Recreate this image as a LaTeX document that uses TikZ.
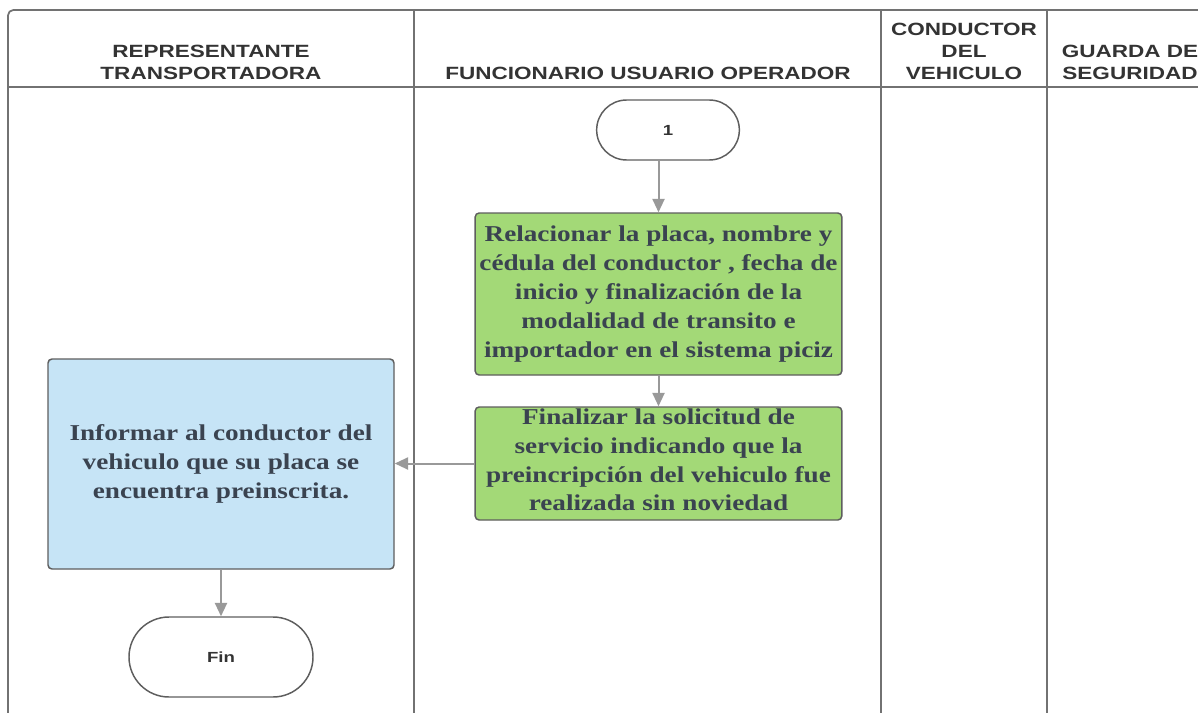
\documentclass[tikz,border=0pt]{standalone}
\usepackage{fontspec}
\setmainfont[FakeStretch=1.2]{Liberation Serif}
\newfontfamily\hdrfont[FakeStretch=1.27]{Liberation Sans}
\usetikzlibrary{arrows.meta,shapes.misc}
\definecolor{framegray}{HTML}{727272}
\definecolor{hdrtext}{HTML}{333333}
\definecolor{boxtext}{HTML}{3A4350}
\definecolor{boxgreen}{HTML}{A3D977}
\definecolor{boxblue}{HTML}{C6E4F6}
\definecolor{boxline}{HTML}{5E5E5E}
\definecolor{arrowgray}{HTML}{999999}
\tikzset{
  hdr/.style={font=\hdrfont\bfseries\fontsize{13.3}{16.5}\selectfont, text=hdrtext, align=center, inner sep=0pt},
  boxfont/.style={align=center, font=\bfseries\fontsize{17}{21.6}\selectfont, text=boxtext, inner sep=0pt},
  procbox/.style={draw=boxline, line width=1.1pt, rounded corners=3pt, boxfont},
  term/.style={draw=boxline, line width=1.1pt, rounded rectangle, fill=white,
     font=\hdrfont\bfseries\fontsize{11}{13}\selectfont, text=hdrtext, inner sep=0pt},
  flow/.style={draw=arrowgray, line width=1.5pt, -{Triangle[length=10pt,width=9pt]}}
}
\begin{document}
\begin{tikzpicture}[x=0.75pt,y=-0.75pt]
\useasboundingbox (0,0) rectangle (1198,713);
\fill[white] (0,0) rectangle (1198,713);
\begin{scope}
\clip (0,0) rectangle (1198,713);
\draw[framegray, line width=1.3pt, rounded corners=4pt] (8,740) -- (8,10) -- (1230,10);
\draw[framegray, line width=1.3pt] (8,87) -- (1230,87);
\draw[framegray, line width=1.3pt] (414,10) -- (414,740);
\draw[framegray, line width=1.3pt] (881,10) -- (881,740);
\draw[framegray, line width=1.3pt] (1047,10) -- (1047,740);

\node[hdr] (h1) at (211,62) {REPRESENTANTE\\TRANSPORTADORA};
\node[hdr] (h2) at (648,73) {FUNCIONARIO USUARIO OPERADOR};
\node[hdr] (h3) at (964,51) {CONDUCTOR\\DEL\\VEHICULO};
\node[hdr] (h4) at (1130,62) {GUARDA DE\\SEGURIDAD};

\node[term, minimum width=107pt, minimum height=45pt] (start) at (668,130) {1};
\node[procbox, fill=boxgreen, minimum width=275pt, minimum height=121.5pt] (b1) at (658.5,294)
  {Relacionar la placa, nombre y\\cédula del conductor , fecha de\\inicio y finalización de la\\modalidad de transito e\\importador en el sistema piciz};
\node[procbox, fill=boxgreen, minimum width=275pt, minimum height=84.75pt] (b2) at (658.5,463.5) {};
\node[boxfont] (b2t) at (658.5,460)
  {Finalizar la solicitud de\\servicio indicando que la\\preincripción del vehiculo fue\\realizada sin noviedad};
\node[procbox, fill=boxblue, minimum width=259.5pt, minimum height=157.5pt] (b3) at (221,464)
  {Informar al conductor del\\vehiculo que su placa se\\encuentra preinscrita.};
\node[term, minimum width=138pt, minimum height=60pt] (fin) at (221,657) {Fin};

\draw[flow] (b1.north |- start.south) -- (b1.north);
\draw[flow] (b1.south) -- (b2.north);
\draw[flow] (b2.west) -- (b2.west -| b3.east);
\draw[flow] (b3.south) -- (fin.north);
\end{scope}
\end{tikzpicture}
\end{document}
